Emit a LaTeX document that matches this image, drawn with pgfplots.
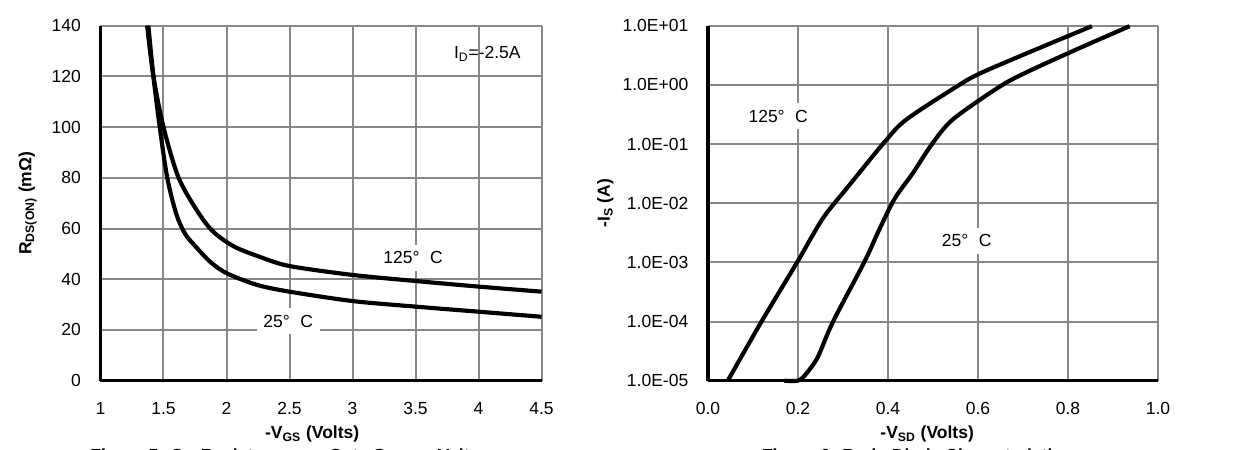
\documentclass[border=0pt]{standalone}
\usepackage{fontspec}
\setmainfont{Liberation Sans}
\usepackage{pgfplots}
\pgfplotsset{compat=1.18}
\definecolor{gridgray}{RGB}{136,136,136}
\newcommand{\fs}{\fontsize{10.5}{12.6}\selectfont}
\tikzset{lbl/.style={fill=white, inner sep=4pt, font=\fs}}
\begin{document}
\fs
\begin{tikzpicture}
\clip (0pt,0pt) rectangle (754.2pt,270pt);
\path[use as bounding box] (0pt,0pt) rectangle (754.2pt,270pt);
\pgfplotsset{
  common/.style={
    scale only axis,
    axis x line=bottom, axis y line=left,
    axis line style={line width=2pt,-},
    grid=major,
    major grid style={gridgray, line width=1.2pt},
    tick style={draw=none},
    /pgf/number format/assume math mode=true,
    tick label style={font=\fs},
    yticklabel style={xshift=-6pt},
    xticklabel style={yshift=-7pt},
    label style={font=\bfseries\fs},
    clip=false,
  },
  curve/.style={black, line width=2.5pt, smooth, tension=0.5, mark=none},
}
% ---------------- Left: On-resistance vs gate-source voltage
\begin{axis}[common,
  at={(60.3pt,41.6pt)}, anchor=south west,
  width=264.6pt, height=213pt,
  xmin=1, xmax=4.5, ymin=0, ymax=140,
  xtick={1,1.5,2,2.5,3,3.5,4,4.5},
  ytick={0,20,40,60,80,100,120,140},
  xlabel={-V\textsubscript{GS} (Volts)},
  ylabel={R\textsubscript{DS(ON)} (mΩ)},
  x label style={at={(axis description cs:0.48,-0.15)}, anchor=center},
  y label style={at={(axis description cs:-0.165,0.5)}, anchor=center},
]
% 25 C
\addplot[curve] coordinates {
 (1.38,140) (1.42,120) (1.47,100) (1.53,80) (1.60,66) (1.67,58)
 (1.755,52.9) (1.87,46.9) (2.0,42.4) (2.24,37.8) (2.5,35.1)
 (3.0,31.4) (3.5,29.2) (4.0,27.2) (4.5,25.2)
};
% 125 C
\addplot[curve] coordinates {
 (1.37,140) (1.42,120) (1.50,100) (1.62,80) (1.78,66) (1.90,58.5)
 (2.06,52.9) (2.26,48.9) (2.5,45.2) (3.0,41.7) (3.5,39.3)
 (4.0,37.1) (4.5,35.1)
};
\node[lbl] at (axis cs:3.48,48.4) {125°\hspace{0.6em}C};
\node[lbl] at (axis cs:2.49,23.5) {25°\hspace{0.6em}C};
\node[font=\fs] at (axis cs:4.07,129) {I\textsubscript{D}=-2.5A};
\end{axis}
% ---------------- Right: body diode characteristics
\begin{axis}[common,
  at={(424.8pt,41.6pt)}, anchor=south west,
  width=270pt, height=213pt,
  xmin=0, xmax=1, ymin=1e-5, ymax=10,
  ymode=log,
  xtick={0,0.2,0.4,0.6,0.8,1},
  xticklabels={0.0,0.2,0.4,0.6,0.8,1.0},
  ytick={1e-5,1e-4,1e-3,1e-2,1e-1,1,10},
  yticklabels={1.0E-05,1.0E-04,1.0E-03,1.0E-02,1.0E-01,1.0E+00,1.0E+01},
  xlabel={-V\textsubscript{SD} (Volts)},
  ylabel={-I\textsubscript{S} (A)},
  x label style={at={(axis description cs:0.487,-0.15)}, anchor=center},
  y label style={at={(axis description cs:-0.228,0.5)}, anchor=center},
]
% 125 C
\addplot[curve] coordinates {
 (0.044,1e-5) (0.119,1e-4) (0.198,1e-3) (0.255,5.5e-3)
 (0.310,1.85e-2) (0.394,1.12e-1) (0.441,0.26) (0.553,0.94) (0.606,1.58)
 (0.73,4.0) (0.853,9.8)
};
% 25 C
\addplot[curve] coordinates {
 (0.17,1e-5) (0.203,1.02e-5) (0.226,1.56e-5) (0.245,2.6e-5) (0.278,1e-4)
 (0.347,1e-3) (0.38,3.5e-3) (0.415,1.2e-2) (0.455,3.2e-2)
 (0.497,9.8e-2) (0.544,0.26) (0.646,0.91) (0.704,1.58) (0.82,4.0) (0.937,9.8)
};
\node[lbl] at (axis cs:0.156,0.295) {125°\hspace{0.6em}C};
\node[lbl] at (axis cs:0.575,2.3e-3) {25°\hspace{0.6em}C};
\end{axis}
% captions (cut off at the lower edge, as in the reference)
\node[anchor=north west, inner sep=0pt, font=\bfseries\fs] at (54pt,1.2pt)
  {Figure 5: On-Resistance vs. Gate-Source Voltage};
\node[anchor=north west, inner sep=0pt, font=\bfseries\fs] at (457pt,1.2pt)
  {Figure 6: Body-Diode Characteristics};
\end{tikzpicture}
\end{document}
